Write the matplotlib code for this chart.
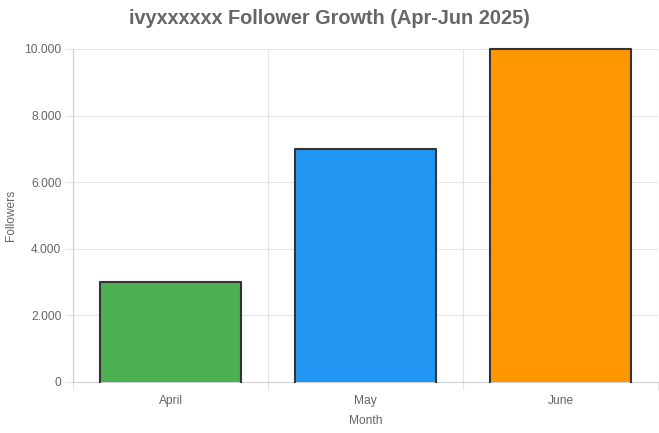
import matplotlib
matplotlib.use("Agg")
import matplotlib.pyplot as plt
from matplotlib.ticker import FuncFormatter, FixedLocator

months = ["April", "May", "June"]
followers = [3000, 7000, 10000]
colors = ["#4CAF50", "#2196F3", "#FF9800"]
y_ticks = [0, 2000, 4000, 6000, 8000, 10000]

plt.rcParams['font.family'] = ['Liberation Sans', 'DejaVu Sans']
TXT = "#666666"
GRID = "#e4e4e4"

fig = plt.figure(figsize=(6.59, 4.33), dpi=100)
ax = fig.add_axes([73/659, 1-382/433, 585/659, 333/433])

width = 0.72
xs = list(range(len(months)))
ax.bar(xs, followers, width=width, color=colors, edgecolor='none', zorder=3)
for x, v in zip(xs, followers):
    ax.plot([x - width/2, x - width/2, x + width/2, x + width/2], [0, v, v, 0],
            color="#333333", lw=1.5, solid_joinstyle='round', zorder=4, clip_on=False)

ax.set_xlim(-0.5, len(months) - 0.5)
ax.set_ylim(0, 10000)
ax.set_yticks(y_ticks)
ax.yaxis.set_major_formatter(FuncFormatter(lambda v, p: f"{int(v):,}".replace(",", ".")))
ax.set_xticks(xs)
ax.set_xticklabels(months)
ax.xaxis.set_minor_locator(FixedLocator([i - 0.5 for i in range(len(months) + 1)]))

ax.tick_params(axis='x', which='major', length=0, pad=9.5, labelsize=8.64, labelcolor=TXT)
ax.tick_params(axis='x', which='minor', length=5.8, width=0.8, color=GRID, direction='out')
ax.tick_params(axis='y', which='major', length=5.8, width=0.8, color=GRID, pad=2.5,
               labelsize=8.64, labelcolor=TXT)

ax.grid(True, axis='y', which='major', color=GRID, lw=0.8, zorder=0)
ax.grid(True, axis='x', which='minor', color=GRID, lw=0.8, zorder=0)
ax.set_axisbelow(True)

for s in ['top', 'right']:
    ax.spines[s].set_visible(False)
for s in ['left', 'bottom']:
    ax.spines[s].set_color("#d0d0d0")
    ax.spines[s].set_linewidth(0.8)

ax.set_xlabel("Month", fontsize=8.64, color=TXT, labelpad=5.3)
ax.set_ylabel("Followers", fontsize=8.64, color=TXT, labelpad=5)

fig.text(0.5, 1 - 18/433, "ivyxxxxxx Follower Growth (Apr-Jun 2025)", ha='center', va='center',
         fontsize=14.3, fontweight='bold', color=TXT)

fig.savefig("out.png", dpi=100)
